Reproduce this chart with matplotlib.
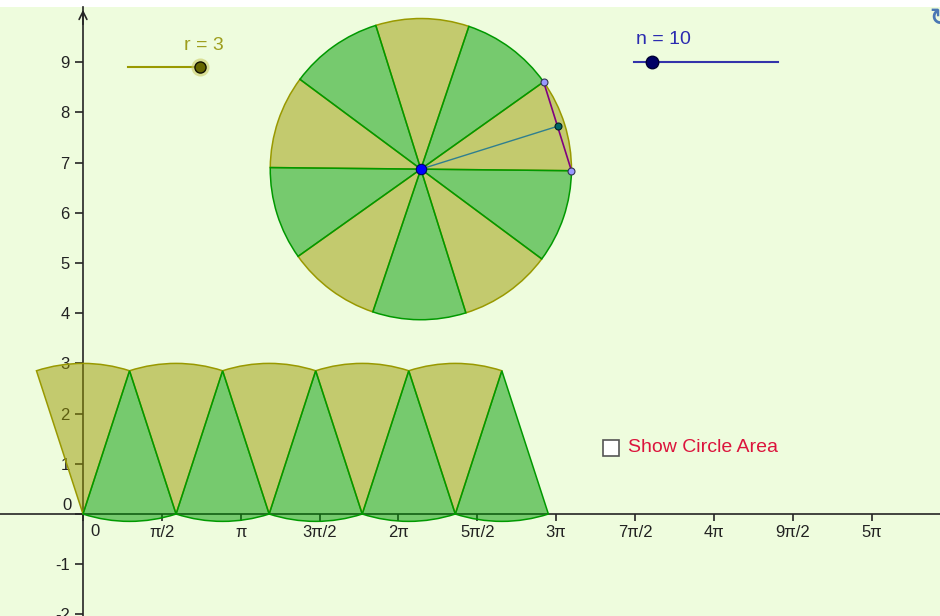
import numpy as np
import matplotlib.pyplot as plt
from matplotlib.patches import Wedge, Rectangle

plt.rcParams['font.family'] = ['Liberation Sans', 'DejaVu Sans']

# construction values
r_value = 3
n_value = 10
r_range = (0, 3)
n_range = (2, 66)
circle_center = (6.73, 6.87)
first_angle = -0.6  # degrees
x_tick_halves = [0, 1, 2, 3, 4, 5, 6, 7, 8, 9, 10]
x_tick_labels = ['0', 'π/2', 'π', '3π/2', '2π', '5π/2', '3π', '7π/2', '4π', '9π/2', '5π']
y_ticks = [-2, -1, 0, 1, 2, 3, 4, 5, 6, 7, 8, 9]
checkbox_label = 'Show Circle Area'

BG = '#EEFCDD'
AXIS = '#252525'
OLIVE = '#999900'
GREEN = '#009900'
OLIVE_FILL = (0.6, 0.6, 0.0, 0.5)
GREEN_FILL = (0.0, 0.6, 0.0, 0.5)
PX = 50.2  # screen pixels per unit


def add_wedge(ax, center, theta1, theta2, olive):
    w = Wedge(center, r_value, theta1, theta2,
              facecolor=OLIVE_FILL if olive else GREEN_FILL,
              edgecolor=OLIVE if olive else GREEN, lw=1.1, zorder=3)
    ax.add_patch(w)


fig = plt.figure(figsize=(9.4, 6.16), dpi=100)
fig.patch.set_facecolor('white')
ax = fig.add_axes([0, 0, 1, 609 / 616])
ax.set_xlim(-83 / PX, 857 / PX)
ax.set_ylim(-102 / PX, 507 / PX)
ax.set_facecolor(BG)

# axes through the origin
for s in ['top', 'right']:
    ax.spines[s].set_visible(False)
for s in ['left', 'bottom']:
    ax.spines[s].set_position(('data', 0))
    ax.spines[s].set_color(AXIS)
    ax.spines[s].set_linewidth(1.2)
ax.set_xticks(np.array(x_tick_halves) * np.pi / 2, [''] + x_tick_labels[1:])
ax.set_yticks(y_ticks, [str(v) if v != 0 else '' for v in y_ticks])
ax.tick_params(axis='x', direction='out', length=5, width=1.2, color=AXIS,
               labelsize=12, labelcolor='#222222', pad=3)
ax.tick_params(axis='y', direction='out', length=6, width=1.2, color=AXIS,
               labelsize=12, labelcolor='#222222', pad=3.6)
ax.annotate('0', (0, 0), xytext=(12, -18), textcoords='offset pixels',
            ha='center', va='center', fontsize=12, color='#222222')
ax.annotate('0', (0, 0), xytext=(-11, 9), textcoords='offset pixels',
            ha='right', va='center', fontsize=12, color='#222222')
ytop = ax.get_ylim()[1]
ax.annotate('', xy=(0, ytop), xytext=(0, ytop - 0.4), annotation_clip=False,
            arrowprops=dict(arrowstyle='->', color=AXIS, lw=1.2, mutation_scale=14))

# the circle cut into n sectors
step = 360 / n_value
for k in range(0, n_value, 2):
    t1 = first_angle + k * step
    add_wedge(ax, circle_center, t1, t1 + step, True)
for k in range(1, n_value, 2):
    t1 = first_angle + k * step
    add_wedge(ax, circle_center, t1, t1 + step, False)

# sectors laid out along the x axis
chord = 2 * r_value * np.sin(np.pi / n_value)
height = r_value * np.cos(np.pi / n_value)
for k in range(n_value // 2):
    add_wedge(ax, (k * chord, 0), 90 - step / 2, 90 + step / 2, True)
for k in range(n_value // 2):
    add_wedge(ax, ((k + 0.5) * chord, height), 270 - step / 2, 270 + step / 2, False)

# chord, apothem and points of the first sector
cx, cy = circle_center
a0 = np.radians(first_angle)
a1 = np.radians(first_angle + step)
p1 = (cx + r_value * np.cos(a0), cy + r_value * np.sin(a0))
p2 = (cx + r_value * np.cos(a1), cy + r_value * np.sin(a1))
mid = ((p1[0] + p2[0]) / 2, (p1[1] + p2[1]) / 2)
ax.plot([p1[0], p2[0]], [p1[1], p2[1]], color='#800080', lw=1.2, zorder=5)
ax.plot([cx, mid[0]], [cy, mid[1]], color='#2F7F8F', lw=1.0, zorder=5)
ax.plot([p1[0], p2[0]], [p1[1], p2[1]], 'o', ms=5, mfc='#9999FF', mec='#333355', mew=0.8, zorder=6)
ax.plot(*mid, 'o', ms=5, mfc='#006666', mec='#002222', mew=0.8, zorder=6)
ax.plot(cx, cy, 'o', ms=7.5, mfc='#0000FF', mec='#000066', mew=0.8, zorder=6)

# slider r
rx0, rx1, ry = 45 / PX, 117 / PX, 447 / PX
rpos = rx0 + (r_value - r_range[0]) / (r_range[1] - r_range[0]) * (rx1 - rx0)
ax.plot([rx0, rx1], [ry, ry], color=OLIVE, lw=1.5, zorder=4)
ax.plot(rpos, ry, 'o', ms=13, mfc='#CCCC66', mec='none', alpha=0.6, zorder=5)
ax.plot(rpos, ry, 'o', ms=8, mfc='#666600', mec='#111100', mew=1.0, zorder=6)
ax.text(101 / PX, 469 / PX, f'r = {r_value}', color='#9E9E1E', fontsize=14,
        ha='left', va='center')

# slider n
nx0, nx1, ny = 551 / PX, 695 / PX, 452 / PX
npos = nx0 + (n_value - n_range[0]) / (n_range[1] - n_range[0]) * (nx1 - nx0)
ax.plot([nx0, nx1], [ny, ny], color='#3333AA', lw=1.5, zorder=4)
ax.plot(npos, ny, 'o', ms=9, mfc='#000066', mec='#000033', mew=1.0, zorder=6)
ax.text(553 / PX, 474 / PX, f'n = {n_value}', color='#2B2BB0', fontsize=14,
        ha='left', va='center')

# checkbox
ax.add_patch(Rectangle((520 / PX, 58 / PX), 16 / PX, 16 / PX, facecolor='white',
                       edgecolor='#555555', lw=1.2, zorder=4))
ax.text(545 / PX, 66.5 / PX, checkbox_label, color='#DC143C', fontsize=14,
        ha='left', va='center')

# reset icon in the top right corner, partly outside the view
fig.text(929 / 940, 1 - 18 / 616, '↻', family='DejaVu Sans', fontsize=17,
         color='#4A78B4', fontweight='bold', ha='left', va='center')

fig.savefig('out.png', dpi=100, facecolor='white')
